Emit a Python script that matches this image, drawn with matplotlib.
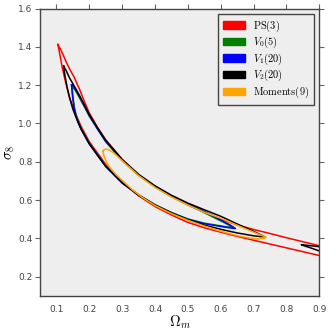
import matplotlib
matplotlib.use('Agg')
import matplotlib.pyplot as plt
from matplotlib.patches import Patch

plt.rcParams['mathtext.fontset'] = 'cm'

# ---------------- data ----------------
labels = [r'$\mathrm{PS}(3)$', r'$V_0(5)$', r'$V_1(20)$', r'$V_2(20)$', r'$\mathrm{Moments}(9)$']
colors = ['red', 'green', 'blue', 'black', 'orange']

xticks = [0.1, 0.2, 0.3, 0.4, 0.5, 0.6, 0.7, 0.8, 0.9]
yticks = [0.2, 0.4, 0.6, 0.8, 1.0, 1.2, 1.4, 1.6]

# PS(3): open contour (lower branch from right edge to tip, then upper branch back)
ps_om = [0.9, 0.85, 0.8, 0.75, 0.7, 0.65, 0.6, 0.55, 0.5, 0.45, 0.4, 0.35, 0.3, 0.25, 0.2,
         0.175, 0.155, 0.14, 0.128, 0.118, 0.111, 0.106, 0.104,
         0.108, 0.112, 0.12, 0.13, 0.14, 0.153, 0.17, 0.185, 0.2, 0.225, 0.25, 0.3, 0.35,
         0.4, 0.45, 0.5, 0.55, 0.6, 0.65, 0.7, 0.75, 0.8, 0.85, 0.9]
ps_s8 = [0.310, 0.330, 0.350, 0.370, 0.390, 0.410, 0.432, 0.455, 0.483, 0.522, 0.566, 0.622, 0.695, 0.786, 0.905,
         0.985, 1.065, 1.135, 1.215, 1.29, 1.355, 1.40, 1.415,
         1.40, 1.39, 1.36, 1.32, 1.285, 1.245, 1.18, 1.115, 1.055, 0.98, 0.915, 0.812, 0.732,
         0.67, 0.618, 0.574, 0.537, 0.50, 0.47, 0.446, 0.425, 0.403, 0.382, 0.361]

# V0(5)
v0_om = [0.148, 0.155, 0.165, 0.185, 0.2, 0.25, 0.3, 0.35, 0.4, 0.45, 0.5, 0.55, 0.58, 0.61, 0.638,
         0.62, 0.6, 0.55, 0.5, 0.45, 0.4, 0.35, 0.3, 0.25, 0.2, 0.175, 0.162, 0.155, 0.151, 0.149, 0.148]
v0_s8 = [1.19, 1.18, 1.15, 1.088, 1.038, 0.904, 0.806, 0.729, 0.669, 0.619, 0.576, 0.534, 0.508, 0.482, 0.457,
         0.459, 0.465, 0.479, 0.501, 0.535, 0.576, 0.628, 0.692, 0.778, 0.897, 0.975, 1.03, 1.08, 1.13, 1.165, 1.19]

# V1(20)
v1_om = [0.146, 0.15, 0.16, 0.17, 0.185, 0.2, 0.225, 0.25, 0.3, 0.35, 0.4, 0.45, 0.5, 0.55, 0.58, 0.61, 0.63, 0.645,
         0.63, 0.6, 0.55, 0.5, 0.45, 0.4, 0.35, 0.3, 0.25, 0.2, 0.175, 0.165, 0.158, 0.153, 0.149, 0.147, 0.146]
v1_s8 = [1.202, 1.200, 1.172, 1.142, 1.092, 1.042, 0.972, 0.908, 0.81, 0.732, 0.672, 0.622, 0.58, 0.54, 0.514, 0.487, 0.468, 0.451,
         0.454, 0.462, 0.476, 0.499, 0.533, 0.574, 0.626, 0.69, 0.776, 0.894, 0.972, 1.01, 1.05, 1.09, 1.14, 1.18, 1.202]

# V2(20): main contour
v2_om = [0.122, 0.13, 0.14, 0.15, 0.16, 0.17, 0.185, 0.2, 0.225, 0.25, 0.3, 0.35, 0.4, 0.45, 0.5, 0.55, 0.6, 0.65,
         0.7, 0.735,
         0.72, 0.7, 0.65, 0.6, 0.55, 0.5, 0.45, 0.4, 0.35, 0.3, 0.25, 0.2, 0.175, 0.16, 0.15, 0.14, 0.133, 0.127,
         0.123, 0.122]
v2_s8 = [1.300, 1.275, 1.238, 1.208, 1.178, 1.147, 1.097, 1.047, 0.977, 0.912, 0.812, 0.734, 0.674, 0.625, 0.584,
         0.549, 0.515, 0.475, 0.436, 0.407,
         0.409, 0.413, 0.428, 0.447, 0.469, 0.497, 0.532, 0.573, 0.625, 0.689, 0.775, 0.893, 0.97, 1.03, 1.075,
         1.135, 1.185, 1.24, 1.28, 1.300]
# V2(20): small fragment at the right edge
v2b_om = [0.9, 0.875, 0.855, 0.845, 0.855, 0.87, 0.885, 0.9]
v2b_s8 = [0.356, 0.361, 0.365, 0.367, 0.360, 0.352, 0.343, 0.334]

# Moments(9)
mom_om = [0.242, 0.244, 0.25, 0.26, 0.275, 0.29, 0.31, 0.33, 0.35, 0.4, 0.45, 0.5, 0.55, 0.6, 0.65, 0.7, 0.725, 0.738,
          0.732, 0.715, 0.69, 0.65, 0.6, 0.55, 0.5, 0.45, 0.4, 0.36, 0.33, 0.3, 0.28, 0.265, 0.255, 0.248, 0.244, 0.242]
mom_s8 = [0.855, 0.862, 0.866, 0.862, 0.845, 0.822, 0.79, 0.76, 0.728, 0.666, 0.616, 0.574, 0.536, 0.505, 0.468, 0.432,
          0.414, 0.405,
          0.400, 0.397, 0.401, 0.414, 0.437, 0.464, 0.494, 0.529, 0.571, 0.615, 0.655, 0.703, 0.735, 0.765, 0.79,
          0.815, 0.835, 0.855]

# ---------------- figure ----------------
fig = plt.figure(figsize=(3.30, 3.33), dpi=100)
ax = fig.add_axes([0.1212, 0.112, 0.8464, 0.862])
ax.set_facecolor('#EEEEEE')

lw = 1.1
ax.plot(ps_om, ps_s8, color=colors[0], lw=lw)
ax.plot(v0_om, v0_s8, color=colors[1], lw=lw)
ax.plot(v1_om, v1_s8, color=colors[2], lw=lw)
ax.plot(v2_om, v2_s8, color=colors[3], lw=lw)
ax.plot(v2b_om, v2b_s8, color=colors[3], lw=lw)
ax.plot(mom_om, mom_s8, color=colors[4], lw=lw)

ax.set_xlim(0.05, 0.9)
ax.set_ylim(0.1, 1.6)
ax.set_xticks(xticks)
ax.set_yticks(yticks)

spc = '#444444'
for s in ax.spines.values():
    s.set_color(spc)
    s.set_linewidth(1.0)
ax.tick_params(axis='x', bottom=False, top=True, labelbottom=True, direction='out', length=3.5,
               width=0.8, color='#666666', labelsize=6.5, labelcolor='#444444', pad=3)
ax.tick_params(axis='y', left=True, right=True, direction='out', length=3.5,
               width=0.8, color='#666666', labelsize=6.5, labelcolor='#444444', pad=2)

ax.set_xlabel(r'$\Omega_m$', fontsize=10.5, labelpad=0)
ax.set_ylabel(r'$\sigma_8$', fontsize=10.5, labelpad=1)

handles = [Patch(facecolor=c, edgecolor=c) for c in colors]
leg = ax.legend(handles, labels, loc='upper right', fontsize=7.5, frameon=True, fancybox=False,
                framealpha=1, edgecolor=spc, facecolor='#EEEEEE', handlelength=2.1,
                labelspacing=0.12, borderpad=0.45, handletextpad=0.8)
leg.get_frame().set_linewidth(1.0)

fig.savefig('out.png', dpi=100)
